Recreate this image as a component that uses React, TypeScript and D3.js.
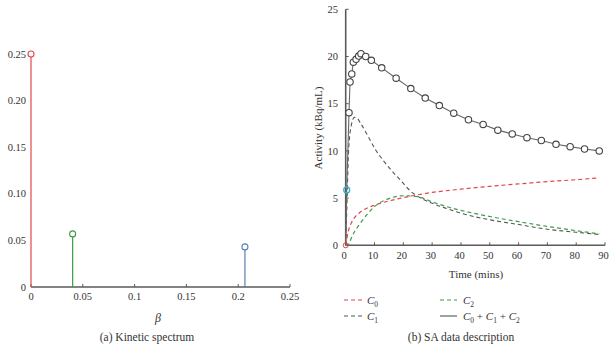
import React from "react";
import * as d3 from "d3";

// ---------- Left panel: kinetic spectrum ----------
const betaValues = [0, 0.0402, 0.2065];
const spectrumValues = [0.25, 0.057, 0.043];
const spectrumColors = ["#e0474c", "#3f9a45", "#5b7fb0"];
const betaTicks = [0, 0.05, 0.1, 0.15, 0.2, 0.25];
const betaTickLabels = ["0", "0.05", "0.1", "0.15", "0.2", "0.25"];
const specTicks = [0, 0.05, 0.1, 0.15, 0.2, 0.25];
const specTickLabels = ["0", "0.05", "0.10", "0.15", "0.20", "0.25"];

// ---------- Right panel: SA data ----------
const sumTimes = [0, 0.35, 1.15, 1.5, 2.1, 2.65, 3.6, 4.5, 5.3, 6.95, 8.9, 12.5, 17.5, 22.6, 27.6, 32.5, 37.5, 42.6, 47.7, 52.8, 57.8, 62.9, 67.9, 73, 77.9, 82.9, 88];
const sumValues = [0, 5.86, 14.05, 17.3, 18.15, 19.4, 19.7, 20.05, 20.3, 20.0, 19.6, 18.8, 17.7, 16.6, 15.6, 14.8, 14.0, 13.3, 12.8, 12.2, 11.8, 11.4, 11.1, 10.7, 10.45, 10.2, 10.0];
const markerStart = 2; // circles drawn from this index on

const c0Times = [0, 1, 2, 3, 5, 7.5, 10, 15, 20, 25, 30, 40, 50, 60, 70, 80, 88];
const c0Values = [0, 1.6, 2.4, 2.9, 3.5, 3.95, 4.25, 4.7, 5.05, 5.35, 5.6, 5.95, 6.25, 6.5, 6.75, 6.95, 7.15];

const c1Times = [0, 0.5, 1, 2, 3, 4, 5, 7.5, 10, 13, 16, 19, 23, 26, 30, 35, 40, 50, 60, 70, 80, 88];
const c1Values = [0, 5, 10, 12.8, 13.55, 13.45, 13.0, 11.7, 10.3, 9.0, 7.9, 6.9, 5.6, 5.0, 4.45, 3.9, 3.4, 2.7, 2.2, 1.7, 1.38, 1.15];

const c2Times = [0, 1, 2, 3, 5, 7.5, 10, 15, 20, 25, 30, 35, 40, 50, 60, 70, 80, 88];
const c2Values = [0, 0.1, 0.8, 1.4, 2.3, 3.3, 4.1, 4.95, 5.25, 5.15, 4.6, 4.1, 3.7, 3.05, 2.5, 2.0, 1.55, 1.2];

const timeTicks = [0, 10, 20, 30, 40, 50, 60, 70, 80, 90];
const activityTicks = [0, 5, 10, 15, 20, 25];

const FONT = "'Liberation Serif', 'DejaVu Serif', serif";
const AXIS = "#5a5a5a";
const TXT = "#333";

export default function App() {
  // left scales
  const xL = d3.scaleLinear().domain([0, 0.25]).range([31, 290]);
  const yL = d3.scaleLinear().domain([0, 0.25]).range([287, 54]);
  // right scales
  const xR = d3.scaleLinear().domain([0, 90]).range([345.7, 605]);
  const yR = d3.scaleLinear().domain([0, 25]).range([245.3, 9.3]);

  const curve = (ts: number[], vs: number[]) =>
    d3
      .line<number>()
      .x((_, i) => xR(ts[i]))
      .y((v) => yR(v))
      .curve(d3.curveMonotoneX)(vs) || "";

  const sumPath =
    d3
      .line<number>()
      .x((_, i) => xR(sumTimes[i]))
      .y((v) => yR(v))(sumValues) || "";

  return (
    <svg
      width={610}
      height={352}
      style={{ position: "absolute", left: 0, top: 0, background: "#fff" }}
      fontFamily={FONT}
    >
      <rect width={610} height={352} fill="#fff" />
      {/* ===== Left panel ===== */}
      <g>
        {/* y tick labels */}
        {specTicks.map((t, i) => (
          <text key={"yl" + i} x={26} y={yL(t)} dy="0.35em" textAnchor="end" fontSize={10.5} fill={TXT}>
            {specTickLabels[i]}
          </text>
        ))}
        {/* x axis */}
        <line x1={xL(0)} x2={xL(0.25)} y1={yL(0)} y2={yL(0)} stroke={AXIS} strokeWidth={1.4} />
        {betaTicks.map((t, i) => (
          <g key={"xl" + i}>
            <line x1={xL(t)} x2={xL(t)} y1={yL(0)} y2={yL(0) - 3} stroke={AXIS} strokeWidth={1} />
            <text x={xL(t)} y={yL(0) + 13} textAnchor="middle" fontSize={10.5} fill={TXT}>
              {betaTickLabels[i]}
            </text>
          </g>
        ))}
        {/* stems */}
        {betaValues.map((b, i) => (
          <g key={"st" + i}>
            <line x1={xL(b)} x2={xL(b)} y1={yL(0)} y2={yL(spectrumValues[i])} stroke={spectrumColors[i]} strokeWidth={1.2} />
            <circle cx={xL(b)} cy={yL(spectrumValues[i])} r={3} fill="#fff" stroke={spectrumColors[i]} strokeWidth={1.1} />
          </g>
        ))}
        <text x={158} y={322} textAnchor="middle" fontSize={12} fontStyle="italic" fill={TXT}>
          β
        </text>
        <text x={147} y={341} textAnchor="middle" fontSize={11.5} fill={TXT}>
          (a)  Kinetic spectrum
        </text>
      </g>

      {/* ===== Right panel ===== */}
      <g>
        {/* y axis */}
        <line x1={xR(0)} x2={xR(0)} y1={yR(0)} y2={yR(25)} stroke={AXIS} strokeWidth={1.6} />
        {activityTicks.map((t, i) => (
          <g key={"yr" + i}>
            <line x1={xR(0)} x2={xR(0) + 3} y1={yR(t)} y2={yR(t)} stroke={AXIS} strokeWidth={1} />
            <text x={338} y={yR(t)} dy="0.35em" textAnchor="end" fontSize={10.5} fill={TXT}>
              {t}
            </text>
          </g>
        ))}
        {/* x axis */}
        <line x1={xR(0)} x2={xR(90)} y1={yR(0)} y2={yR(0)} stroke={AXIS} strokeWidth={1.4} />
        {timeTicks.map((t, i) => (
          <g key={"xr" + i}>
            <line x1={xR(t)} x2={xR(t)} y1={yR(0)} y2={yR(0) - 3} stroke={AXIS} strokeWidth={1} />
            <text x={xR(t) - 1.5} y={yR(0) + 14} textAnchor="middle" fontSize={10.5} fill={TXT}>
              {t}
            </text>
          </g>
        ))}
        <text x={476} y={278} textAnchor="middle" fontSize={11} fill={TXT}>
          Time (mins)
        </text>
        <text
          transform={`translate(318,128) rotate(-90)`}
          textAnchor="middle"
          dy="0.35em"
          fontSize={11}
          fill={TXT}
        >
          Activity (kBq/mL)
        </text>

        {/* component curves */}
        <path d={curve(c1Times, c1Values)} fill="none" stroke="#555" strokeWidth={1.1} strokeDasharray="4,3" />
        <path d={curve(c2Times, c2Values)} fill="none" stroke="#3f9a45" strokeWidth={1.2} strokeDasharray="4,3" />
        <path d={curve(c0Times, c0Values)} fill="none" stroke="#e0474c" strokeWidth={1.2} strokeDasharray="4,3" />

        {/* sum */}
        <path d={sumPath} fill="none" stroke="#666" strokeWidth={1.1} />
        <circle cx={xR(sumTimes[0])} cy={yR(sumValues[0])} r={2.5} fill="none" stroke="#e0474c" strokeWidth={1} />
        <circle cx={xR(sumTimes[1])} cy={yR(sumValues[1])} r={3} fill="none" stroke="#3ab0c8" strokeWidth={1.3} />
        {sumValues.map((v, i) =>
          i >= markerStart ? (
            <circle key={"m" + i} cx={xR(sumTimes[i])} cy={yR(v)} r={3.2} fill="#fff" stroke="#444" strokeWidth={1.1} />
          ) : null
        )}

        {/* legend */}
        <g fontSize={11} fill={TXT}>
          <line x1={344} x2={362} y1={300} y2={300} stroke="#e0474c" strokeWidth={1.2} strokeDasharray="4,3" />
          <text x={367} y={300} dy="0.35em" fontStyle="italic">
            C<tspan fontSize={7.5} dy="3" fontStyle="normal">0</tspan>
          </text>
          <line x1={344} x2={362} y1={316} y2={316} stroke="#555" strokeWidth={1.1} strokeDasharray="4,3" />
          <text x={367} y={316} dy="0.35em" fontStyle="italic">
            C<tspan fontSize={7.5} dy="3" fontStyle="normal">1</tspan>
          </text>
          <line x1={440} x2={457} y1={300} y2={300} stroke="#3f9a45" strokeWidth={1.2} strokeDasharray="4,3" />
          <text x={463} y={300} dy="0.35em" fontStyle="italic">
            C<tspan fontSize={7.5} dy="3" fontStyle="normal">2</tspan>
          </text>
          <line x1={440} x2={457} y1={316} y2={316} stroke="#555" strokeWidth={1.1} />
          <text x={463} y={316} dy="0.35em" fontStyle="italic">
            C<tspan fontSize={7.5} dy="3" fontStyle="normal">0</tspan>
            <tspan dy="-3" fontStyle="normal"> + </tspan>
            C<tspan fontSize={7.5} dy="3" fontStyle="normal">1</tspan>
            <tspan dy="-3" fontStyle="normal"> + </tspan>
            C<tspan fontSize={7.5} dy="3" fontStyle="normal">2</tspan>
          </text>
        </g>
        <text x={461} y={341} textAnchor="middle" fontSize={11.5} fill={TXT}>
          (b)  SA data description
        </text>
      </g>
    </svg>
  );
}
